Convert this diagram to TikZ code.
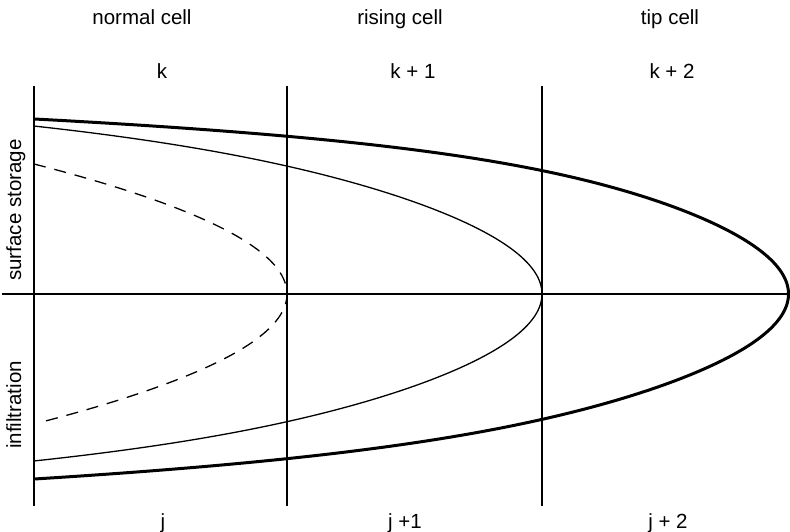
\documentclass[tikz,border=0pt]{standalone}
\usepackage{fontspec}
\setmainfont{Liberation Sans}
\begin{document}
\begin{tikzpicture}[x=1pt,y=-1pt,
  lbl/.style={inner sep=0pt, anchor=base, font=\fontsize{20.5}{24}\selectfont},
  gridline/.style={line width=1.3pt},
  axisline/.style={line width=1.4pt},
  thincurve/.style={line width=1.3pt, line join=round},
  thickcurve/.style={line width=3pt, line join=round},
  dashcurve/.style={line width=1.3pt, dash pattern=on 12pt off 9pt}]
\useasboundingbox (0,0) rectangle (790,532);
% grid
\coordinate (v1t) at (34,86);  \coordinate (v1b) at (34,506);
\coordinate (v2t) at (287,86); \coordinate (v2b) at (287,506);
\coordinate (v3t) at (542,86); \coordinate (v3b) at (542,506);
\coordinate (ax0) at (2,294);  \coordinate (ax1) at (790,294);
\draw[gridline] (v1t) -- (v1b);
\draw[gridline] (v2t) -- (v2b);
\draw[gridline] (v3t) -- (v3b);
\draw[axisline] (ax0) -- (ax1);
% curves
\draw[thickcurve]
  plot[domain=175:0, samples=90, smooth] ({788.5-0.015*\x*\x-294.6*(\x/175)^8}, {294-\x})
  -- plot[domain=0:185, samples=90, smooth] ({788.5-0.015*\x*\x-240.6*(\x/185)^8}, {294+\x});
\draw[thincurve]
  plot[domain=168:0, samples=90, smooth] ({542-0.015*\x*\x-85*(\x/168)^8}, {294-\x})
  -- plot[domain=0:167, samples=90, smooth] ({542-0.015*\x*\x-90*(\x/167)^8}, {294+\x});
\draw[dashcurve] plot[domain=-130:129, samples=80, smooth] ({287-253*(\x/130)^2}, {294+\x});
% labels
\node[lbl] (nc) at (142,25) {normal cell};
\node[lbl] (rc) at (400,25) {rising cell};
\node[lbl] (tc) at (670,25) {tip cell};
\node[lbl] (k0) at (162,79) {k};
\node[lbl] (k1) at (413,79) {k + 1};
\node[lbl] (k2) at (672,79) {k + 2};
\node[lbl] (j0) at (163,528) {j};
\node[lbl] (j1) at (405,528) {j +1};
\node[lbl] (j2) at (668,528) {j + 2};
\node[lbl, rotate=90] (ss) at (21,210) {surface storage};
\node[lbl, rotate=90] (inf) at (21,405) {infiltration};
\end{tikzpicture}
\end{document}
